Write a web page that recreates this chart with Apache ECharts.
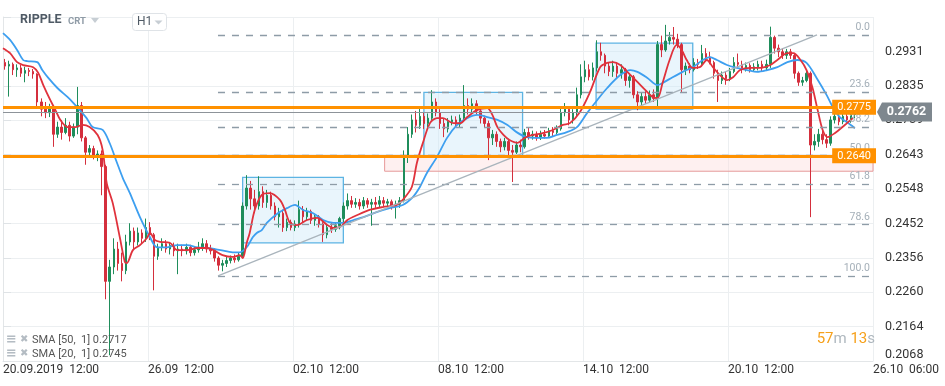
<!DOCTYPE html>
<html><head><meta charset="utf-8">
<script src="https://cdn.jsdelivr.net/npm/echarts@6/dist/echarts.min.js"></script>
<style>html,body{margin:0;padding:0;background:#fff}#c{width:945px;height:386px}</style>
</head><body><div id="c"></div>
<script>
// ---- DATA (prices in units of 0.0001) ----
const SCALE = 10000;
const candleHours = 4;          // each candle covers 4 hours
const totalHours = 864;         // 20.09 12:00 -> 26.10 12:00
const labelEveryHours = 144;
const xTickLabels = ['20.09.2019  12:00','26.09  12:00','02.10  12:00','08.10  12:00','14.10  12:00','20.10  12:00','26.10  06:00'];
const yTickLabels = ['0.2068','0.2164','0.2260','0.2356','0.2452','0.2548','0.2643','0.2739','0.2835','0.2931'];
const yFirstTick = 0.2068, yLastTick = 0.2931;

// [open, close, low, high]
const candles = [
[2900,2890,2880,2910],[2890,2895,2805,2905],[2895,2880,2865,2900],[2880,2885,2860,2895],[2885,2870,2860,2893],
[2870,2878,2845,2888],[2878,2875,2862,2885],[2875,2868,2855,2882],[2868,2790,2775,2870],[2790,2770,2750,2800],
[2770,2760,2745,2790],[2760,2775,2748,2785],[2775,2700,2665,2780],[2700,2720,2690,2735],[2720,2705,2685,2740],
[2705,2725,2700,2745],[2725,2695,2680,2735],[2695,2720,2690,2730],[2720,2780,2700,2832],[2780,2690,2680,2790],
[2690,2650,2615,2695],[2650,2660,2640,2670],[2660,2640,2630,2668],[2640,2645,2625,2655],[2645,2610,2530,2655],
[2610,2290,2240,2615],[2290,2330,2084,2350],[2330,2380,2310,2410],[2380,2340,2320,2400],[2340,2320,2290,2370],
[2320,2400,2310,2420],[2400,2430,2390,2452],[2430,2400,2380,2440],[2400,2425,2390,2440],[2425,2410,2395,2435],
[2410,2440,2400,2465],[2440,2420,2405,2455],[2420,2360,2265,2425],[2360,2385,2350,2395],[2385,2395,2375,2410],
[2395,2380,2370,2405],[2380,2390,2365,2400],[2390,2375,2360,2398],[2375,2380,2310,2395],[2380,2375,2360,2392],
[2375,2385,2365,2395],[2385,2370,2360,2392],[2370,2378,2362,2388],[2378,2385,2370,2400],[2385,2395,2375,2410],
[2395,2380,2370,2405],[2380,2375,2365,2392],[2375,2355,2345,2382],[2355,2335,2320,2360],[2335,2340,2318,2350],
[2340,2348,2330,2358],[2348,2355,2340,2362],[2355,2350,2342,2365],[2350,2360,2345,2370],[2360,2500,2355,2510],
[2500,2550,2490,2586],[2550,2520,2490,2570],[2520,2500,2480,2545],[2500,2540,2490,2583],[2540,2510,2495,2555],
[2510,2530,2495,2545],[2530,2500,2490,2540],[2500,2470,2460,2510],[2470,2480,2440,2495],[2480,2440,2428,2490],
[2440,2455,2430,2465],[2455,2440,2432,2462],[2440,2450,2430,2460],[2450,2490,2440,2515],[2490,2470,2455,2500],
[2470,2485,2460,2495],[2485,2460,2450,2490],[2460,2470,2445,2478],[2470,2450,2440,2475],[2450,2420,2400,2455],
[2420,2440,2410,2450],[2440,2435,2425,2452],[2435,2445,2428,2455],[2445,2465,2435,2470],[2465,2500,2455,2510],
[2500,2515,2490,2535],[2515,2505,2495,2528],[2505,2510,2495,2522],[2510,2500,2490,2520],[2500,2515,2492,2525],
[2515,2505,2495,2522],[2505,2510,2445,2520],[2510,2505,2495,2525],[2505,2515,2495,2528],[2515,2508,2497,2525],
[2508,2512,2498,2520],[2512,2500,2490,2518],[2500,2505,2465,2515],[2505,2515,2495,2525],[2515,2640,2510,2655],
[2640,2700,2620,2720],[2700,2740,2690,2755],[2740,2725,2705,2765],[2725,2750,2715,2773],[2750,2730,2715,2760],
[2730,2745,2720,2758],[2745,2790,2740,2823],[2790,2760,2750,2800],[2760,2730,2715,2770],[2730,2715,2692,2745],
[2715,2735,2705,2745],[2735,2740,2725,2752],[2740,2728,2720,2750],[2728,2745,2720,2755],[2745,2780,2738,2837],
[2780,2770,2755,2800],[2770,2785,2760,2800],[2785,2765,2755,2795],[2765,2745,2730,2770],[2745,2730,2718,2752],
[2730,2690,2628,2738],[2690,2700,2670,2712],[2700,2680,2665,2708],[2680,2665,2650,2688],[2665,2680,2655,2690],
[2680,2655,2640,2685],[2655,2650,2567,2670],[2650,2670,2645,2680],[2670,2665,2650,2685],[2665,2705,2660,2715],
[2705,2695,2685,2718],[2695,2700,2685,2710],[2700,2690,2682,2708],[2690,2700,2684,2710],[2700,2695,2688,2712],
[2695,2710,2690,2718],[2710,2705,2695,2720],[2705,2715,2700,2725],[2715,2760,2710,2775],[2760,2770,2750,2787],
[2770,2740,2725,2775],[2740,2760,2730,2770],[2760,2810,2750,2830],[2810,2860,2800,2895],[2860,2880,2845,2905],
[2880,2860,2850,2895],[2860,2885,2850,2900],[2885,2930,2875,2962],[2930,2920,2905,2955],[2920,2890,2870,2925],
[2890,2875,2862,2900],[2875,2890,2860,2905],[2890,2870,2855,2900],[2870,2880,2855,2895],[2880,2850,2835,2885],
[2850,2860,2830,2870],[2860,2810,2800,2865],[2810,2790,2767,2820],[2790,2805,2780,2815],[2805,2795,2785,2820],
[2795,2810,2788,2822],[2810,2800,2790,2825],[2800,2950,2776,2960],[2950,2935,2915,2975],[2935,2960,2930,3005],
[2960,2970,2950,2985],[2970,2965,2950,2999],[2965,2950,2940,2980],[2950,2880,2818,2955],[2880,2890,2865,2900],
[2890,2880,2870,2898],[2880,2900,2875,2912],[2900,2895,2882,2910],[2895,2925,2890,2949],[2925,2915,2905,2940],
[2915,2900,2895,2930],[2900,2870,2855,2905],[2870,2850,2790,2880],[2850,2865,2840,2875],[2865,2855,2838,2875],
[2855,2875,2848,2885],[2875,2900,2870,2915],[2900,2895,2885,2925],[2895,2885,2870,2905],[2885,2892,2875,2900],
[2892,2880,2872,2898],[2880,2888,2875,2898],[2888,2895,2878,2905],[2895,2885,2875,2905],[2885,2895,2878,2908],
[2895,2970,2885,3000],[2970,2940,2925,2975],[2940,2930,2915,2950],[2930,2920,2910,2940],[2920,2930,2910,2938],
[2930,2920,2910,2938],[2920,2870,2855,2925],[2870,2845,2835,2875],[2845,2850,2835,2860],[2850,2870,2845,2880],
[2870,2670,2469,2875],[2670,2680,2655,2700],[2680,2700,2665,2715],[2700,2685,2672,2712],[2685,2675,2662,2700],
[2675,2740,2668,2750],[2740,2750,2730,2765],[2750,2735,2725,2760],[2735,2750,2728,2762],[2750,2740,2730,2758],
[2740,2755,2732,2765],[2755,2762,2745,2768]
];

// [hour, value]
const sma20 = [
[0,2940],[7,2926],[14,2901],[20,2893],[30,2887],[35,2871],[40,2837],[47,2795],[52,2768],[57,2740],[64,2720],[72,2720],
[79,2726],[86,2720],[94,2698],[99,2656],[103,2564],[109,2508],[116,2413],[121,2344],[123,2341],[129,2377],[136,2391],
[143,2411],[146,2425],[151,2405],[156,2400],[166,2397],[173,2377],[183,2377],[193,2383],[203,2383],[209,2377],[218,2363],
[228,2358],[235,2363],[238,2355],[242,2397],[245,2425],[250,2489],[257,2531],[265,2536],[275,2517],[280,2489],[285,2453],
[292,2447],[302,2461],[312,2467],[322,2447],[328,2439],[335,2442],[342,2461],[352,2475],[364,2489],[377,2497],[391,2503],
[397,2517],[406,2553],[411,2620],[417,2676],[424,2731],[431,2745],[437,2745],[447,2731],[454,2731],[461,2748],[471,2768],
[481,2773],[486,2754],[491,2720],[497,2698],[503,2684],[511,2676],[518,2690],[526,2698],[536,2703],[546,2712],[556,2726],
[563,2731],[573,2762],[583,2818],[593,2887],[600,2899],[606,2901],[613,2893],[620,2874],[630,2846],[638,2823],[645,2804],
[650,2801],[655,2843],[662,2907],[669,2949],[674,2935],[679,2907],[685,2885],[692,2887],[699,2907],[705,2887],[712,2865],
[719,2851],[725,2859],[732,2879],[742,2885],[752,2885],[762,2893],[769,2907],[779,2926],[785,2926],[792,2907],[798,2879],
[804,2829],[809,2768],[814,2712],[819,2692],[826,2703],[836,2726],[844,2745]
];
const sma50 = [
[0,2982],[7,2963],[14,2935],[20,2907],[24,2904],[34,2901],[39,2879],[45,2857],[54,2829],[64,2804],[70,2787],[76,2768],
[83,2745],[89,2720],[99,2712],[106,2675],[113,2622],[119,2578],[126,2536],[136,2469],[146,2413],[153,2385],[163,2385],
[173,2391],[183,2391],[193,2385],[203,2383],[216,2377],[228,2371],[235,2371],[242,2385],[248,2413],[252,2425],[257,2433],
[262,2453],[272,2478],[282,2494],[290,2503],[298,2489],[308,2480],[318,2461],[328,2453],[338,2453],[348,2461],[358,2469],
[371,2483],[384,2494],[397,2503],[407,2525],[414,2553],[421,2592],[431,2637],[441,2690],[451,2726],[461,2745],[471,2754],
[481,2748],[491,2740],[501,2726],[510,2706],[520,2692],[530,2690],[540,2690],[550,2698],[560,2706],[570,2720],[580,2759],
[590,2795],[600,2829],[613,2865],[623,2879],[630,2874],[640,2857],[650,2837],[655,2843],[665,2859],[675,2874],[685,2887],
[695,2907],[702,2915],[709,2907],[719,2893],[729,2885],[739,2879],[749,2874],[759,2879],[769,2887],[779,2901],[789,2907],
[798,2899],[808,2857],[818,2809],[824,2776],[831,2748],[838,2734],[846,2717]
];

// Fibonacci retracement (drawn from hour fibStart to the right edge)
const fibHigh = 2977, fibLow = 2305, fibStart = 213.5;
const fibLevels = [0, 23.6, 38.2, 50, 61.8, 78.6, 100];
const trendLine = [[213.5, 2305], [808.4, 2977]];
const levelLines = [2775, 2640];
const lastPrice = 2762;
// [hourStart, top, hourEnd, bottom]
const boxes = [[238, 2580, 338, 2397], [418, 2817, 516, 2639], [589, 2954, 685, 2770]];
const supportZone = [379, 2640, 864, 2597];
const legendItems = [['SMA [50,  1]', '0.2717'], ['SMA [20,  1]', '0.2745']];
const countdown = ['57', 'm', '13', 's'];

// ---- CHART ----
const P = v => v / SCALE;
const yStep = (yLastTick - yFirstTick) / (yTickLabels.length - 1);
const yMax = yFirstTick + yStep * yTickLabels.length;
const catData = Array.from({length: totalHours / candleHours}, (_, i) => i * candleHours);
const fibPrice = l => P(fibHigh - (fibHigh - fibLow) * l / 100);
const ORANGE = '#ff9100';

const markLines = [];
fibLevels.forEach(l => {
  markLines.push([
    {coord: [fibStart, fibPrice(l)], lineStyle: {color: '#8e9ca7', width: 1.3, type: [7, 7]},
     label: {show: true, position: 'insideEndTop', formatter: l.toFixed(1), color: '#a4afb8', fontSize: 10.5, distance: [3, 2]}},
    {coord: [totalHours, fibPrice(l)]}
  ]);
});
markLines.push([
  {coord: [trendLine[0][0], P(trendLine[0][1])], lineStyle: {color: '#a9b4bc', width: 1.3, type: 'solid'}, label: {show: false}},
  {coord: [trendLine[1][0], P(trendLine[1][1])]}
]);
markLines.push([
  {coord: [0, P(lastPrice)], lineStyle: {color: '#8d9399', width: 1.2, type: 'solid'}, label: {show: false}},
  {coord: [totalHours, P(lastPrice)]}
]);
levelLines.forEach(v => {
  markLines.push([
    {coord: [0, P(v)], lineStyle: {color: ORANGE, width: 3, type: 'solid'},
     label: {show: true, position: 'insideEnd', formatter: P(v).toFixed(4), color: '#fff', backgroundColor: ORANGE,
             padding: [2, 5], fontSize: 11, distance: -3}},
    {coord: [totalHours, P(v)]}
  ]);
});

const areas = boxes.map(b => [
  {coord: [b[0], P(b[1])], itemStyle: {color: 'rgba(206,232,248,0.45)', borderColor: '#5db4e3', borderWidth: 1.3}},
  {coord: [b[2], P(b[3])]}
]);
areas.unshift([
  {coord: [supportZone[0], P(supportZone[1])], itemStyle: {color: 'rgba(252,222,222,0.45)', borderColor: '#e79a9a', borderWidth: 1}},
  {coord: [supportZone[2], P(supportZone[3])]}
]);

const option = {
  animation: false,
  textStyle: {fontFamily: 'Roboto, sans-serif'},
  grid: {left: 3, right: 72, top: 17, bottom: 25, containLabel: false, outerBoundsMode: 'none'},
  xAxis: [
    {type: 'category', data: catData, boundaryGap: true, show: false},
    {type: 'value', min: 0, max: totalHours, interval: labelEveryHours, position: 'bottom',
     axisLine: {show: true, lineStyle: {color: '#e3e6e8'}}, axisTick: {show: false},
     splitLine: {show: true, lineStyle: {color: '#eceff1'}},
     axisLabel: {color: '#333', fontSize: 12, align: 'left', margin: 3,
       formatter: v => xTickLabels[Math.round(v / labelEveryHours)] || ''}}
  ],
  yAxis: {type: 'value', position: 'right', min: yFirstTick, max: yMax, interval: yStep,
    axisLine: {show: true, lineStyle: {color: '#e3e6e8'}},
    axisTick: {show: true, length: 8, lineStyle: {color: '#dfe3e6'}},
    splitLine: {show: true, lineStyle: {color: '#eceff1'}},
    axisLabel: {color: '#333', fontSize: 12.5, margin: 12, showMaxLabel: false, verticalAlignMinLabel: 'bottom',
      formatter: v => yTickLabels[Math.round((v - yFirstTick) / yStep)] || ''}},
  series: [
    {type: 'line', xAxisIndex: 1, data: [], z: 1, silent: true,
     markArea: {silent: true, label: {show: false}, data: areas}},
    {type: 'candlestick', xAxisIndex: 0, z: 2, barWidth: 2,
     data: candles.map(r => r.map(P)),
     itemStyle: {color: '#1f8d5b', color0: '#d42f3d', borderColor: '#1f8d5b', borderColor0: '#d42f3d', borderWidth: 1}},
    {type: 'line', name: 'SMA50', xAxisIndex: 1, z: 3, showSymbol: false, smooth: 0.3,
     data: sma50.map(p => [p[0], P(p[1])]), lineStyle: {color: '#3d9ff0', width: 1.8}},
    {type: 'line', name: 'SMA20', xAxisIndex: 1, z: 3, showSymbol: false, smooth: 0.3,
     data: sma20.map(p => [p[0], P(p[1])]), lineStyle: {color: '#e0323c', width: 1.8}},
    {type: 'line', xAxisIndex: 1, data: [], z: 5, silent: true, clip: false,
     markLine: {silent: true, symbol: ['none', 'none'], label: {show: false}, data: markLines},
     markPoint: {silent: true, data: [{
       coord: [totalHours, P(lastPrice)], symbol: 'path://M0,9.5L5,0L55,0L55,19L5,19Z',
       symbolSize: [55, 19], symbolOffset: [31.5, 0], itemStyle: {color: '#7e878e'},
       label: {show: true, position: 'inside', formatter: P(lastPrice).toFixed(4), color: '#fff',
               fontSize: 12.5, fontWeight: 'bold', offset: [2, 0]}}]}}
  ],
  graphic: [
    {type: 'text', left: 20, top: 13, z: 100, style: {text: 'RIPPLE', font: 'bold 12.5px Roboto', fill: '#4f5a65'}},
    {type: 'text', left: 68, top: 17, z: 100, style: {text: 'CRT', font: 'bold 9.5px Roboto', fill: '#8f9ba6'}},
    {type: 'polygon', z: 100, shape: {points: [[91, 18], [99, 18], [95, 23]]}, style: {fill: '#c7ced4'}},
    {type: 'rect', z: 100, shape: {x: 132.5, y: 13.5, width: 34, height: 17, r: 3}, style: {fill: '#fff', stroke: '#dfe3e7', lineWidth: 1}},
    {type: 'text', left: 137, top: 16, z: 101, style: {text: 'H1', font: '12px Roboto', fill: '#4f5a65'}},
    {type: 'polygon', z: 101, shape: {points: [[154.5, 20.5], [162.5, 20.5], [158.5, 24.5]]}, style: {fill: '#c7ced4'}},
    {type: 'text', left: 6, top: 333, z: 100, style: {text: '≡', font: 'bold 13px DejaVu Sans', fill: '#b4bcc3'}},
    {type: 'text', left: 20, top: 334, z: 100, style: {text: '✖', font: '10px DejaVu Sans', fill: '#b4bcc3'}},
    {type: 'text', left: 32, top: 335, z: 100, style: {text: legendItems[0][0] + ' ' + legendItems[0][1], font: '11px Roboto', fill: '#555'}},
    {type: 'text', left: 6, top: 347, z: 100, style: {text: '≡', font: 'bold 13px DejaVu Sans', fill: '#b4bcc3'}},
    {type: 'text', left: 20, top: 348, z: 100, style: {text: '✖', font: '10px DejaVu Sans', fill: '#b4bcc3'}},
    {type: 'text', left: 32, top: 349, z: 100, style: {text: legendItems[1][0] + ' ' + legendItems[1][1], font: '11px Roboto', fill: '#555'}},
    {type: 'text', right: 70, top: 332, z: 100, style: {
      text: '{o|' + countdown[0] + '}{g|' + countdown[1] + '} {o|' + countdown[2] + '}{g|' + countdown[3] + '}',
      font: '15px Roboto',
      rich: {o: {fill: '#f6a01a', fontSize: 15, fontFamily: 'Roboto'}, g: {fill: '#aeb7be', fontSize: 15, fontFamily: 'Roboto'}}}}
  ]
};
const chart = echarts.init(document.getElementById('c'));
chart.setOption(option);
</script>
</body></html>
